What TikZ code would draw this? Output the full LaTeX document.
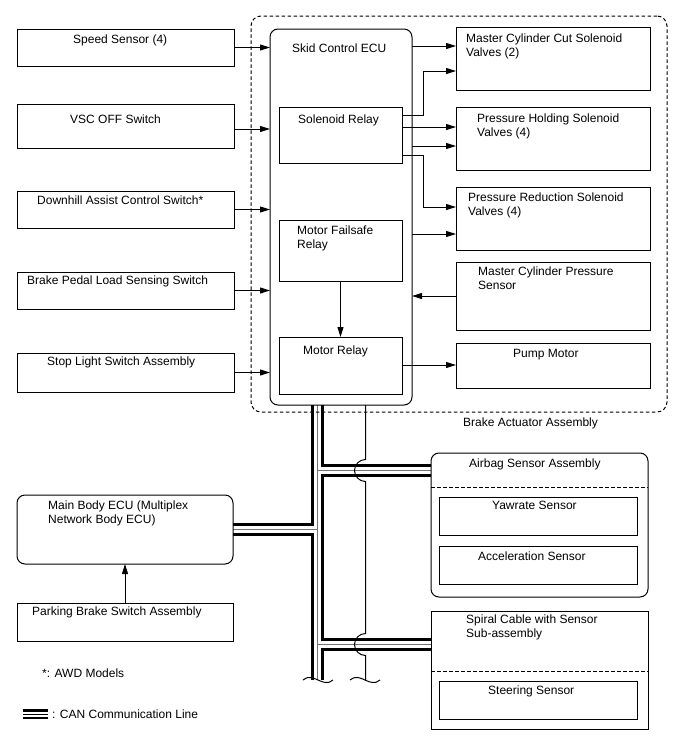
\documentclass[tikz,border=0pt]{standalone}
\usepackage{fontspec}
\setmainfont{Liberation Sans}
\usetikzlibrary{arrows.meta}
\pgfdeclarelayer{bg}
\pgfsetlayers{bg,main}
\newcommand\mkbx[6][box]{\node[#1, minimum width={(#5)-(#3)}, minimum height={(#6)-(#4)}] (#2) at ({((#3)+(#5))/2},{((#4)+(#6))/2}) {};}
\newcommand\canpaths[1]{%
  \draw[#1] (ecu.south -| 317.5,0) -- (317.5,680);
  \draw[#1] (mbe.east |- 0,529.5) -- (317.5,529.5);
  \draw[#1] (317.5,470.5) -- (ab.west |- 0,470.5);
  \draw[#1] (317.5,644.5) -- (sc.west |- 0,644.5);}
\begin{document}
\begin{tikzpicture}[x=1pt,y=-1pt,
  font=\fontsize{12}{14}\selectfont,
  box/.style={draw, line width=1pt, inner sep=0pt, outer sep=0pt},
  rbox/.style={box, rounded corners=8pt},
  actbox/.style={draw, line width=1pt, inner sep=0pt, outer sep=0pt, dash pattern=on 3.5pt off 2.5pt, rounded corners=10pt},
  txt/.style={anchor=base west, inner sep=0pt, align=left},
  arr/.style={line width=1pt, -{Triangle[length=10pt,width=6pt]}},
  ln/.style={line width=1pt},
  dv/.style={line width=1pt, dash pattern=on 3.5pt off 2.5pt},
]
\useasboundingbox (0,0) rectangle (688,755);

% boxes
\mkbx[actbox]{act}{251}{16}{667}{412}
\mkbx{spd}{17}{29}{234}{66}
\mkbx{vsc}{17}{104}{234}{148}
\mkbx{dhl}{17}{191}{234}{228}
\mkbx{bpl}{17}{272}{234}{309}
\mkbx{slp}{17}{353}{234}{392}
\mkbx[rbox]{ecu}{270}{29}{412}{405}
\mkbx{sr}{279}{107}{402}{163}
\mkbx{mfr}{279}{220}{402}{281}
\mkbx{mr}{279}{337}{402}{394}
\mkbx{mcc}{456}{27}{650}{90}
\mkbx{phs}{456}{107}{650}{170}
\mkbx{prs}{456}{187}{650}{250}
\mkbx{mcps}{456}{262}{650}{330}
\mkbx{pump}{456}{343}{650}{388}
\mkbx[rbox]{mbe}{17}{495}{233}{564}
\mkbx{pbs}{17}{603}{233}{641}
\mkbx[rbox]{ab}{431}{453}{648}{597}
\mkbx{yaw}{439}{497}{637}{535}
\mkbx{acc}{439}{546}{637}{584}
\mkbx{sc}{431}{611}{648}{729}
\mkbx{str}{439}{681}{637}{719}

% dividers
\draw[dv] (ab.west |- 0,487) -- (ab.east |- 0,487);
\draw[dv] (sc.west |- 0,671) -- (sc.east |- 0,671);

% texts
\node[txt] (t1) at (73,43.7) {Speed Sensor (4)};
\node[txt] (t2) at (70,123.2) {VSC OFF Switch};
\node[txt] (t3) at (37,204.2) {Downhill Assist Control Switch*};
\node[txt] (t4) at (27,284.2) {Brake Pedal Load Sensing Switch};
\node[txt] (t5) at (47,365.2) {Stop Light Switch Assembly};
\node[txt] (t6) at (292,52.2) {Skid Control ECU};
\node[txt] (t7) at (298,123.2) {Solenoid Relay};
\node[txt] (t8) at (297,248.2) {Motor Failsafe\\Relay};
\node[txt] (t9) at (303,354.2) {Motor Relay};
\node[txt] (t10) at (466,56.2) {Master Cylinder Cut Solenoid\\Valves (2)};
\node[txt] (t11) at (477,136.2) {Pressure Holding Solenoid\\Valves (4)};
\node[txt] (t12) at (468,215.2) {Pressure Reduction Solenoid\\Valves (4)};
\node[txt] (t13) at (478,289.2) {Master Cylinder Pressure\\Sensor};
\node[txt] (t14) at (513,357.2) {Pump Motor};
\node[txt] (t15) at (463,426.2) {Brake Actuator Assembly};
\node[txt] (t16) at (469,467.2) {Airbag Sensor Assembly};
\node[txt] (t17) at (492,509.2) {Yawrate Sensor};
\node[txt] (t18) at (478,560.2) {Acceleration Sensor};
\node[txt] (t19) at (466,637.2) {Spiral Cable with Sensor\\Sub-assembly};
\node[txt] (t20) at (488,694.2) {Steering Sensor};
\node[txt] (t21) at (48,523.2) {Main Body ECU (Multiplex\\Network Body ECU)};
\node[txt] (t22) at (32,615.2) {Parking Brake Switch Assembly};
\node[txt] (t23) at (42,677.2) {*: AWD Models};
\node[txt] (t24) at (52,718.2) {: CAN Communication Line};

% input arrows
\draw[arr] (spd.east) -- (ecu.west |- spd.east);
\draw[arr] ([yshift=-3pt]vsc.east) -- (ecu.west |- 0,129);
\draw[arr] (dhl.east) -- (ecu.west |- dhl.east);
\draw[arr] (bpl.east) -- (ecu.west |- bpl.east);
\draw[arr] (slp.east) -- (ecu.west |- slp.east);

% output arrows
\draw[arr] (ecu.east |- 0,46) -- (mcc.west |- 0,46);
\draw[arr] (sr.east |- 0,115) -- (423,115) |- (mcc.west |- 0,71);
\draw[arr] (sr.east |- 0,127) -- (phs.west |- 0,127);
\draw[arr] (ecu.east |- 0,146) -- (phs.west |- 0,146);
\draw[arr] (sr.east |- 0,155) -- (423,155) |- (prs.west |- 0,207);
\draw[arr] (ecu.east |- 0,234) -- (prs.west |- 0,234);
\draw[arr] (mcps.west |- 0,296) -- (ecu.east |- 0,296);
\draw[arr] (mr.east |- 0,365) -- (pump.west |- 0,365);
\draw[arr] (mfr.south) -- (mr.north);
\draw[arr] (pbs.north) -- (mbe.south);

% CAN bus
\begin{pgfonlayer}{bg}
\canpaths{line width=13.5pt, black}
\canpaths{line width=7.5pt, white}
\canpaths{line width=0.6pt, black!55}
\end{pgfonlayer}
\draw[ln] (ecu.south -| 365.5,0) -- (365.5,459.5) arc[start angle=90, end angle=270, radius=11pt]
  -- (365.5,633.5) arc[start angle=90, end angle=270, radius=11pt] -- (365.5,680);
\draw[ln] (303,680) .. controls (313,671) and (323,689) .. (333,680);
\draw[ln] (350,680) .. controls (360,671) and (370,689) .. (380,680);

% legend symbol
\coordinate (lg1) at (23,714);
\coordinate (lg2) at (48,714);
\draw[line width=10pt] (lg1) -- (lg2);
\draw[line width=5pt, white] (lg1) -- (lg2);
\draw[line width=0.8pt] (lg1) -- (lg2);
\end{tikzpicture}
\end{document}
